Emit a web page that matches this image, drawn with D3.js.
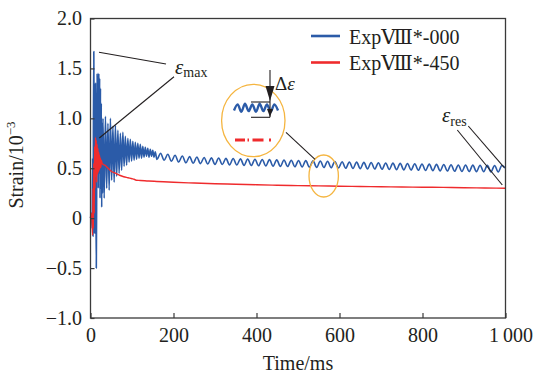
<!DOCTYPE html>
<html>
<head>
<meta charset="utf-8">
<script src="https://cdn.jsdelivr.net/npm/d3@7"></script>
<style>
  body { margin: 0; background: #fff; }
  text { font-family: "Liberation Serif", "DejaVu Serif", serif; fill: #231f20; }
</style>
</head>
<body>
<div id="chart"></div>
<script>
// 坐标轴刻度
const xTicks = [0, 200, 400, 600, 800, 1000]
const xTickLabels = ['0', '200', '400', '600', '800', '1\u2009000']
const yTicks = [-1, -0.5, 0, 0.5, 1, 1.5, 2]
const yTickLabels = ['\u22121.0', '\u22120.5', '0', '0.5', '1.0', '1.5', '2.0']

const seriesNames = ['Exp\u2167*-000', 'Exp\u2167*-450']

// Exp VIII*-000 前段 [时间 ms, 应变]
const blueEarly = [
  [0, 0], [2, 0.05], [4, -0.1], [5, 0.6], [6, -0.18], [7, 0.9], [8, 1.67], [9, 0.4],
  [10, -0.15], [11, 0.9], [12, 1.35], [13, 0.2], [14, -0.5], [15, 0.4], [16, 1.45],
  [17, 0.55], [18, 1.42], [19, 0.3], [20, 1.45], [21, 0.45], [22, 1.4], [23, 0.2],
  [24, 1.3], [25, 0.3], [26, 1.15], [27, 0.11], [28, 0.95], [29, 0.25], [30, 1.0],
  [33, 0.2], [36, 1.02], [39, 0.3], [42, 0.95], [45, 0.28], [48, 1.0], [51, 0.38],
  [54, 0.92], [57, 0.36], [60, 0.93], [63, 0.42], [66, 0.88], [69, 0.45], [72, 0.85],
  [75, 0.48], [78, 0.86], [81, 0.52], [84, 0.82], [87, 0.53], [90, 0.8], [93, 0.56],
  [96, 0.79], [99, 0.57], [102, 0.77], [105, 0.58], [108, 0.76], [111, 0.59],
  [114, 0.75], [117, 0.6], [120, 0.74], [123, 0.6], [126, 0.72], [129, 0.61],
  [132, 0.71], [135, 0.62], [138, 0.7], [141, 0.61], [144, 0.69], [147, 0.62],
  [150, 0.68], [153, 0.61], [156, 0.665]
]
// 后段: 从 160 ms 起每 8.75 ms 一个极值
const blueLateStart = 160
const blueLateStep = 8.75
const blueLate = [
  0.588, 0.650, 0.580, 0.640, 0.570, 0.630, 0.562, 0.622, 0.555, 0.616, 0.550, 0.612,
  0.546, 0.608, 0.542, 0.604, 0.539, 0.602, 0.537, 0.599, 0.534, 0.597, 0.532, 0.594,
  0.529, 0.592, 0.527, 0.590, 0.525, 0.588, 0.523, 0.586, 0.521, 0.584, 0.519, 0.582,
  0.517, 0.580, 0.515, 0.578, 0.513, 0.576, 0.511, 0.574, 0.509, 0.572, 0.507, 0.570,
  0.505, 0.568, 0.503, 0.565, 0.500, 0.563, 0.498, 0.561, 0.496, 0.559, 0.494, 0.557,
  0.492, 0.555, 0.490, 0.553, 0.488, 0.551, 0.486, 0.549, 0.484, 0.547, 0.482, 0.545,
  0.480, 0.543, 0.478, 0.541, 0.476, 0.539, 0.474, 0.537, 0.472, 0.535, 0.470, 0.533,
  0.468, 0.532, 0.467, 0.531, 0.466, 0.530, 0.465, 0.529, 0.464, 0.528, 0.463, 0.527,
  0.500
]

// Exp VIII*-450
const redSeries = [
  [0, 0], [2, 0.05], [4, -0.05], [5, -0.17], [6, 0.3], [7, -0.1], [8, 0.55], [9, 0.05],
  [10, 0.72], [11, 0.3], [12, 0.81], [13, 0.42], [14, 0.78], [15, 0.36], [16, 0.74],
  [17, 0.44], [18, 0.7], [19, 0.46], [20, 0.66], [21, 0.48], [22, 0.63], [23, 0.5],
  [24, 0.6], [25, 0.51], [26, 0.58], [28, 0.55], [30, 0.54], [35, 0.53], [40, 0.51],
  [45, 0.49], [50, 0.47], [60, 0.45], [70, 0.43], [80, 0.415], [90, 0.405],
  [100, 0.395], [105, 0.39], [110, 0.38], [120, 0.378], [140, 0.372], [160, 0.368],
  [200, 0.36], [250, 0.352], [300, 0.345], [350, 0.34], [400, 0.335], [450, 0.33],
  [500, 0.326], [550, 0.323], [600, 0.32], [650, 0.317], [700, 0.315], [750, 0.312],
  [800, 0.31], [850, 0.308], [900, 0.305], [950, 0.302], [1000, 0.3]
]

// 放大图中的波形 (约 560 ms 附近)
const insetBlue = [0.51, 0.56, 0.50, 0.565, 0.505, 0.56, 0.50, 0.565, 0.505, 0.56, 0.50, 0.56, 0.51]

const width = 539
const height = 378
const blue = '#2b5ba8'
const red = '#ef2b2d'
const orange = '#f5b540'
const axisColor = '#3a3a3a'

const svg = d3.select('#chart')
  .append('svg')
  .attr('width', width)
  .attr('height', height)

const xScale = d3.scaleLinear().domain([0, 1000]).range([90.5, 505.5])
const yScale = d3.scaleLinear().domain([-1, 2]).range([318, 18.5])

const blueData = blueEarly.concat(blueLate.map((v, i) => [blueLateStart + i * blueLateStep, v]))

const line = d3.line()
  .x(d => xScale(d[0]))
  .y(d => yScale(d[1]))
  .curve(d3.curveMonotoneX)

// 数据曲线
svg.append('path')
  .datum(blueData)
  .attr('d', line)
  .attr('fill', 'none')
  .attr('stroke', blue)
  .attr('stroke-width', 1.6)
  .attr('stroke-linejoin', 'round')

svg.append('path')
  .datum(redSeries)
  .attr('d', line)
  .attr('fill', 'none')
  .attr('stroke', red)
  .attr('stroke-width', 1.4)
  .attr('stroke-linejoin', 'round')

// 边框
svg.append('rect')
  .attr('x', xScale(0))
  .attr('y', yScale(2))
  .attr('width', xScale(1000) - xScale(0))
  .attr('height', yScale(-1) - yScale(2))
  .attr('fill', 'none')
  .attr('stroke', axisColor)
  .attr('stroke-width', 1.3)

// x 轴
const xAxis = d3.axisBottom(xScale)
  .tickValues(xTicks)
  .tickSizeInner(-5)
  .tickSizeOuter(0)
  .tickPadding(10)
  .tickFormat((d, i) => xTickLabels[i])
const gx = svg.append('g')
  .attr('transform', `translate(0, ${yScale(-1)})`)
  .call(xAxis)
gx.select('.domain').remove()
gx.selectAll('line').attr('stroke', axisColor).attr('stroke-width', 1.2)
gx.selectAll('text')
  .attr('font-size', 20)
  .attr('y', 24)
  .attr('dy', 0)
  .attr('fill', '#231f20')
gx.selectAll('.tick').filter(d => d === 1000).select('text').attr('dx', 5)

// y 轴
const yAxis = d3.axisLeft(yScale)
  .tickValues(yTicks)
  .tickSizeInner(-4)
  .tickSizeOuter(0)
  .tickPadding(9)
  .tickFormat((d, i) => yTickLabels[i])
const gy = svg.append('g')
  .attr('transform', `translate(${xScale(0)}, 0)`)
  .call(yAxis)
gy.select('.domain').remove()
gy.selectAll('line').attr('stroke', axisColor).attr('stroke-width', 1.2)
gy.selectAll('text')
  .attr('font-size', 20)
  .attr('x', -8.5)
  .attr('dy', 6)
  .attr('fill', '#231f20')

// 轴标题
svg.append('text')
  .attr('x', 298)
  .attr('y', 370)
  .attr('text-anchor', 'middle')
  .attr('font-size', 20)
  .text('Time/ms')

const ylab = svg.append('text')
  .attr('transform', 'translate(23, 165) rotate(-90)')
  .attr('text-anchor', 'middle')
  .attr('font-size', 20)
ylab.append('tspan').text('Strain/10')
ylab.append('tspan').attr('font-size', 13).attr('dy', -8).text('\u22123')

// 图例
const legend = svg.append('g')
seriesNames.forEach((name, i) => {
  const y = 36 + i * 26.5
  legend.append('line')
    .attr('x1', 311).attr('x2', 340)
    .attr('y1', y).attr('y2', y)
    .attr('stroke', i === 0 ? blue : red)
    .attr('stroke-width', 2.6)
  legend.append('text')
    .attr('x', 349)
    .attr('y', y + 7.5)
    .attr('font-size', 20)
    .text(name)
})

// 标注
const ann = svg.append('g').attr('stroke', '#231f20').attr('stroke-width', 1.1)
ann.append('line').attr('x1', 99).attr('y1', 52.3).attr('x2', 166).attr('y2', 64)
ann.append('line').attr('x1', 174).attr('y1', 76.7).attr('x2', 99.3).attr('y2', 138)
ann.append('line').attr('x1', 468.3).attr('y1', 126).attr('x2', 504.3).attr('y2', 167.7)
ann.append('line').attr('x1', 457.3).attr('y1', 130).attr('x2', 502.3).attr('y2', 185)

const emax = svg.append('text').attr('x', 175).attr('y', 74).attr('font-size', 21)
emax.append('tspan').attr('font-style', 'italic').text('\u03b5')
emax.append('tspan').attr('font-size', 14).attr('dy', 3).text('max')

const eres = svg.append('text').attr('x', 442).attr('y', 122).attr('font-size', 21)
eres.append('tspan').attr('font-style', 'italic').text('\u03b5')
eres.append('tspan').attr('font-size', 14).attr('dy', 4).text('res')

// 放大圈
svg.append('ellipse')
  .attr('cx', 253.3).attr('cy', 120.5).attr('rx', 31.7).attr('ry', 36.2)
  .attr('fill', 'none').attr('stroke', orange).attr('stroke-width', 1.3)
svg.append('ellipse')
  .attr('cx', 323.7).attr('cy', 176).attr('rx', 14.7).attr('ry', 21)
  .attr('fill', 'none').attr('stroke', orange).attr('stroke-width', 1.3)
svg.append('line')
  .attr('x1', 286).attr('y1', 132.3).attr('x2', 315).attr('y2', 159.3)
  .attr('stroke', '#231f20').attr('stroke-width', 1.1)

const xInset = d3.scaleLinear().domain([0, insetBlue.length - 1]).range([234, 278])
const yInset = d3.scaleLinear().domain([0.49, 0.575]).range([113, 102.5])
svg.append('path')
  .datum(insetBlue)
  .attr('d', d3.line().x((d, i) => xInset(i)).y(d => yInset(d)).curve(d3.curveMonotoneX))
  .attr('fill', 'none')
  .attr('stroke', blue)
  .attr('stroke-width', 2.4)

svg.append('line')
  .attr('x1', 235).attr('x2', 273).attr('y1', 140).attr('y2', 140)
  .attr('stroke', red).attr('stroke-width', 3)
  .attr('stroke-dasharray', '10 2.5 1.5 3.5 11 5.5 2 10')

// Δε 标记
const de = svg.append('g').attr('stroke', '#231f20').attr('stroke-width', 1.1)
de.append('line').attr('x1', 251).attr('x2', 270).attr('y1', 102).attr('y2', 102)
de.append('line').attr('x1', 251).attr('x2', 270).attr('y1', 117.3).attr('y2', 117.3)
de.append('line').attr('x1', 270).attr('x2', 270).attr('y1', 70).attr('y2', 117.3)
svg.append('path')
  .attr('d', 'M265.5,86 L274.5,86 L270,101 Z')
  .attr('fill', '#231f20')
svg.append('path')
  .attr('d', 'M267,109 L273,109 L270,117 Z')
  .attr('fill', '#231f20')

const dtext = svg.append('text').attr('x', 275).attr('y', 90).attr('font-size', 19)
dtext.append('tspan').text('\u0394')
dtext.append('tspan').attr('font-style', 'italic').text('\u03b5')
</script>
</body>
</html>
